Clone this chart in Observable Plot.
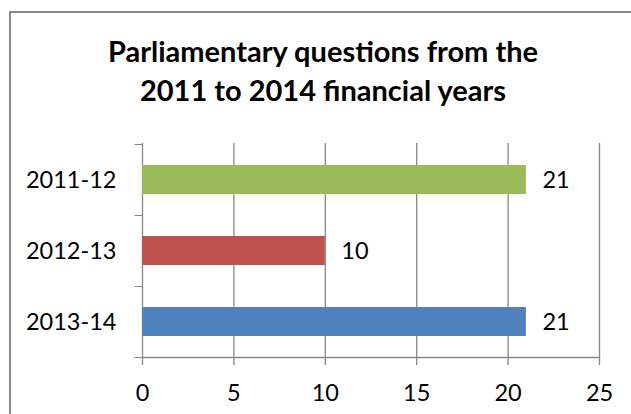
<!DOCTYPE html>
<html>
<head>
<meta charset="utf-8">
<script src="https://cdn.jsdelivr.net/npm/d3@7"></script>
<script src="https://cdn.jsdelivr.net/npm/@observablehq/plot@0.6"></script>
<style>
  html, body { margin: 0; padding: 0; background: #fff; overflow: hidden; }
  body { width: 631px; height: 414px; position: relative; }
  #frame { position: absolute; left: 9px; top: 11px; width: 700px; height: 500px; border: 2px solid #8a8a8a; box-sizing: border-box; }
  #title { position: absolute; left: 0; top: 31px; width: 646px; text-align: center; font-family: Lato, sans-serif; font-weight: bold; font-size: 29px; line-height: 39px; color: #000; }
  #chart { position: absolute; left: 0; top: 120px; }
</style>
</head>
<body>
<div id="frame"></div>
<div id="title">Parliamentary questions from the<br>2011 to 2014 financial years</div>
<div id="chart"></div>
<script>
const categories = ["2011-12", "2012-13", "2013-14"];
const values = [21, 10, 21];
const colors = ["#9BBB59", "#C0504D", "#4F81BD"];
const xTicks = [0, 5, 10, 15, 20, 25];

const data = categories.map((c, i) => ({year: c, value: values[i], color: colors[i]}));

const grey = "#868686";

function yBoundaryTicks(index, scales) {
  const y = scales.y, x = scales.x;
  const bw = y.bandwidth ? y.bandwidth() : 0;
  const centers = categories.map(c => y(c) + bw / 2);
  const step = centers[1] - centers[0];
  const bounds = [centers[0] - step / 2, ...centers.map(c => c + step / 2)];
  const x0 = Math.round(x(0)) + 0.5;
  const g = d3.create("svg:g");
  g.selectAll("line").data(bounds).join("line")
    .attr("x1", x0 - 8).attr("x2", x0)
    .attr("y1", d => Math.round(d) + 0.5).attr("y2", d => Math.round(d) + 0.5)
    .attr("stroke", grey);
  return g.node();
}

const chart = Plot.plot({
  width: 631,
  height: 294,
  marginLeft: 142,
  marginRight: 32,
  marginTop: 23,
  marginBottom: 57,
  x: {domain: [0, 25], label: null},
  y: {domain: categories, paddingInner: 0.593, paddingOuter: 0.2965, label: null},
  color: {type: "identity"},
  style: {fontFamily: "Lato, sans-serif", fontSize: "23.5px", color: "#000", background: "transparent", overflow: "visible"},
  marks: [
    Plot.ruleX(xTicks, {stroke: grey, strokeWidth: 1.3, strokeOpacity: 1, insetBottom: -8}),
    Plot.frame({anchor: "bottom", stroke: grey, strokeWidth: 1.3}),
    yBoundaryTicks,
    Plot.barX(data, {y: "year", x: "value", fill: "color"}),
    Plot.text(data, {y: "year", x: "value", text: d => String(d.value), dx: 16, textAnchor: "start", fill: "#000", fontSize: 23.5}),
    Plot.axisX({ticks: xTicks, tickSize: 0, tickPadding: 27, label: null, fontSize: 23.5}),
    Plot.axisY({tickSize: 0, tickPadding: 26, label: null, fontSize: 23.5})
  ]
});
document.getElementById("chart").appendChild(chart);
</script>
</body>
</html>
